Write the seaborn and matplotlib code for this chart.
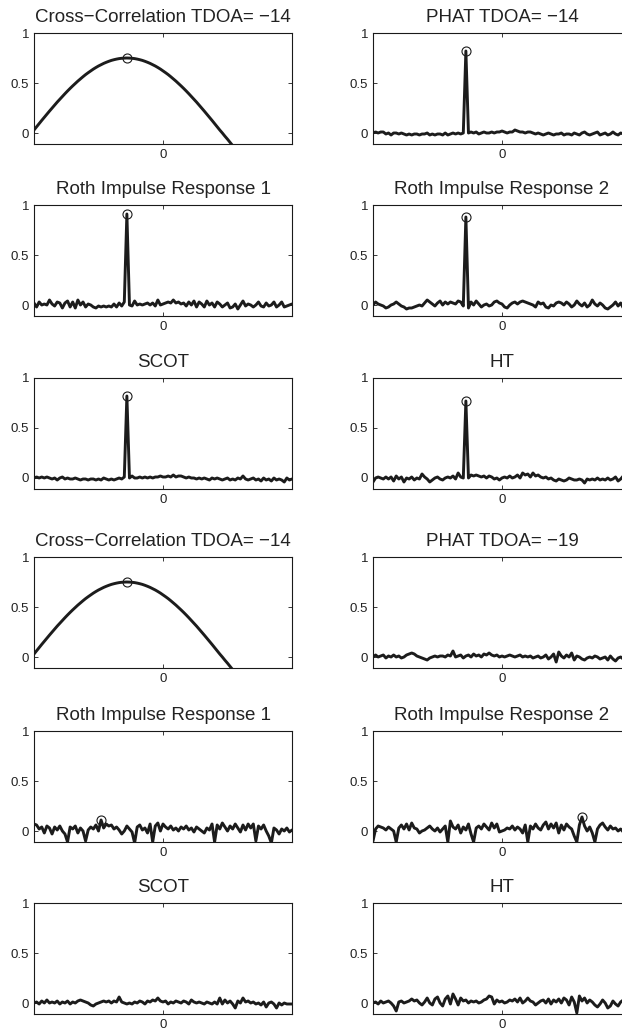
import numpy as np
import pandas as pd
import matplotlib
matplotlib.use("Agg")
import matplotlib.pyplot as plt
import seaborn as sns

# ---------------- data ----------------
lags = np.arange(-50, 51)

cross_corr = [
    0.030, 0.062, 0.094, 0.126, 0.157, 0.188, 0.219, 0.249, 0.279, 0.309,
    0.337, 0.365, 0.393, 0.420, 0.446, 0.471, 0.495, 0.519, 0.541, 0.563,
    0.584, 0.603, 0.621, 0.639, 0.655, 0.670, 0.683, 0.696, 0.707, 0.717,
    0.726, 0.733, 0.739, 0.744, 0.747, 0.749, 0.750, 0.749, 0.747, 0.744,
    0.739, 0.733, 0.726, 0.717, 0.707, 0.696, 0.683, 0.670, 0.655, 0.639,
    0.621, 0.603, 0.584, 0.563, 0.541, 0.519, 0.495, 0.471, 0.446, 0.420,
    0.393, 0.365, 0.337, 0.309, 0.279, 0.249, 0.219, 0.188, 0.157, 0.126,
    0.094, 0.062, 0.030, 0.000, -0.032, -0.062, -0.094, -0.126, -0.157, -0.188,
    -0.219, -0.249, -0.279, -0.309, -0.337, -0.365, -0.393, -0.420, -0.446, -0.471,
    -0.495, -0.519, -0.541, -0.563, -0.584, -0.603, -0.621, -0.639, -0.655, -0.670,
    -0.683,
]

phat_1 = [
    0.00, 0.01, 0.00, 0.01, 0.01, -0.01, 0.00, -0.02, 0.00, 0.00,
    -0.01, 0.00, -0.01, -0.02, -0.01, -0.02, -0.01, -0.01, -0.02, -0.01,
    -0.01, 0.00, -0.02, -0.01, -0.02, -0.01, -0.01, -0.02, 0.00, -0.02,
    -0.01, 0.00, -0.01, 0.00, -0.01, 0.00, 0.82, 0.00, 0.01, 0.00,
    0.01, -0.01, 0.00, 0.01, 0.00, 0.00, 0.01, 0.00, 0.01, 0.01,
    0.02, 0.01, 0.00, 0.01, 0.01, 0.03, 0.02, 0.01, 0.01, 0.00,
    0.01, 0.01, 0.00, -0.01, 0.00, -0.01, -0.02, -0.01, 0.00, -0.01,
    -0.02, -0.01, -0.01, 0.00, -0.02, -0.01, -0.01, -0.02, 0.00, -0.01,
    -0.02, 0.00, 0.01, -0.01, -0.02, -0.01, 0.00, 0.01, -0.02, -0.01,
    0.00, -0.02, -0.01, 0.01, -0.01, -0.02, 0.00, -0.01, -0.02, -0.01,
    -0.02,
]

roth1_1 = [
    0.02, -0.02, 0.03, 0.00, 0.01, 0.00, 0.05, 0.01, -0.01, 0.03,
    0.02, -0.03, 0.02, 0.04, -0.02, 0.03, -0.03, 0.05, 0.00, 0.03,
    -0.02, 0.01, 0.00, -0.02, -0.03, -0.01, -0.02, -0.01, -0.02, -0.01,
    -0.02, 0.01, -0.02, 0.02, -0.01, 0.03, 0.91, 0.00, -0.01, 0.04,
    0.00, 0.01, 0.00, 0.01, 0.02, 0.00, 0.02, -0.01, 0.05, 0.00,
    0.01, 0.02, 0.03, 0.02, 0.05, 0.02, 0.03, 0.01, 0.02, -0.01,
    0.03, 0.00, 0.04, -0.02, 0.03, 0.01, -0.02, 0.04, 0.00, 0.02,
    -0.02, 0.03, 0.01, -0.02, 0.00, 0.02, -0.03, -0.02, 0.01, -0.04,
    0.00, 0.04, -0.01, 0.01, 0.00, -0.02, 0.00, 0.03, -0.01, -0.02,
    0.02, -0.01, 0.00, 0.03, -0.02, 0.00, 0.03, -0.02, -0.01, 0.00,
    0.01,
]

roth2_1 = [
    0.00, 0.03, 0.01, 0.00, -0.01, -0.03, -0.02, 0.00, 0.01, 0.03,
    0.01, -0.01, -0.02, -0.04, -0.03, -0.03, -0.02, -0.01, 0.00, -0.01,
    0.02, 0.05, 0.03, 0.01, -0.01, 0.02, 0.04, 0.00, 0.03, 0.01,
    0.03, 0.02, 0.01, 0.04, 0.03, -0.01, 0.88, -0.03, 0.03, 0.00,
    0.04, 0.01, -0.02, 0.00, 0.01, -0.01, 0.00, 0.03, 0.04, 0.02,
    0.01, -0.02, -0.03, 0.00, 0.02, 0.03, 0.01, 0.03, 0.04, 0.03,
    0.02, 0.01, 0.00, -0.02, 0.03, 0.01, 0.02, -0.02, -0.03, 0.00,
    -0.01, 0.02, 0.03, 0.02, 0.00, 0.03, 0.01, -0.02, 0.00, 0.04,
    0.01, -0.01, 0.02, -0.02, 0.00, 0.05, 0.01, -0.01, 0.02, 0.00,
    -0.03, -0.04, -0.02, 0.00, 0.03, -0.01, 0.02, -0.03, -0.01, -0.04,
    -0.02,
]

scot_1 = [
    0.00, 0.01, 0.00, 0.01, 0.00, 0.01, 0.00, -0.01, 0.00, -0.02,
    0.00, 0.01, -0.01, 0.00, -0.01, -0.01, 0.00, -0.01, -0.02, -0.01,
    -0.01, -0.02, -0.01, -0.01, -0.02, -0.01, -0.02, 0.00, -0.01, -0.02,
    -0.01, -0.02, -0.01, 0.00, -0.01, 0.01, 0.82, 0.00, 0.02, 0.00,
    0.00, 0.01, 0.00, 0.01, 0.00, 0.01, 0.00, 0.01, 0.01, 0.02,
    0.01, 0.01, 0.02, 0.01, 0.03, 0.01, 0.02, 0.02, 0.01, 0.00,
    0.01, 0.00, 0.00, -0.01, 0.00, -0.01, 0.00, -0.01, -0.02, 0.00,
    -0.01, 0.00, -0.01, -0.02, -0.01, 0.00, -0.02, -0.01, -0.02, 0.00,
    -0.01, 0.02, -0.01, -0.02, -0.01, 0.00, -0.02, -0.01, -0.03, 0.00,
    -0.02, -0.01, -0.03, 0.00, -0.02, -0.01, -0.02, -0.04, 0.00, -0.02,
    -0.01,
]

ht_1 = [
    -0.04, 0.00, 0.01, 0.00, -0.01, 0.01, -0.01, 0.01, -0.03, 0.02,
    -0.01, 0.01, -0.04, 0.00, -0.01, 0.01, -0.02, 0.00, -0.01, 0.04,
    0.01, -0.01, -0.04, -0.02, 0.00, 0.01, -0.01, -0.02, 0.00, 0.01,
    0.00, 0.02, -0.01, 0.05, 0.01, 0.00, 0.77, 0.00, 0.03, 0.02,
    0.03, 0.02, 0.01, 0.02, 0.00, 0.02, 0.01, -0.01, 0.00, -0.02,
    0.00, 0.01, 0.00, 0.02, 0.00, 0.01, 0.03, 0.00, 0.05, 0.03,
    0.04, 0.01, 0.05, 0.02, 0.03, 0.01, 0.00, 0.01, -0.01, 0.00,
    -0.02, -0.03, -0.01, -0.02, -0.03, -0.02, 0.00, -0.01, -0.02, -0.02,
    -0.01, -0.02, -0.05, -0.01, -0.02, -0.01, -0.02, 0.00, -0.02, -0.01,
    -0.02, 0.00, -0.02, -0.01, 0.01, -0.03, -0.01, 0.02, -0.04, -0.01,
    -0.03,
]

phat_2 = [
    0.00, 0.02, 0.00, 0.01, 0.02, -0.01, 0.01, 0.00, 0.02, 0.00,
    0.01, -0.01, 0.00, 0.02, 0.03, 0.04, 0.03, 0.01, 0.00, -0.01,
    -0.02, -0.03, -0.01, 0.00, 0.01, 0.00, 0.01, 0.01, 0.00, 0.02,
    0.01, 0.06, 0.00, 0.01, 0.02, -0.01, 0.01, 0.02, 0.00, 0.03,
    0.01, 0.02, 0.00, 0.03, 0.02, 0.04, 0.02, 0.01, 0.02, 0.00,
    0.01, 0.00, 0.01, 0.02, 0.01, 0.00, 0.01, 0.02, 0.00, 0.01,
    0.00, 0.01, -0.01, 0.00, 0.01, -0.01, 0.00, 0.02, -0.02, 0.00,
    0.03, -0.05, 0.05, 0.01, -0.01, 0.02, 0.00, 0.04, -0.03, 0.01,
    0.00, -0.02, -0.03, -0.01, 0.00, -0.01, 0.01, 0.00, -0.02, -0.01,
    0.00, -0.03, 0.01, -0.02, -0.04, -0.01, 0.00, -0.02, -0.01, -0.03,
    -0.02,
]

roth1_2 = [
    0.07, 0.06, 0.02, 0.04, -0.02, 0.05, 0.03, -0.03, 0.04, 0.01,
    0.05, 0.00, -0.03, -0.11, 0.04, 0.02, 0.05, -0.02, 0.03, 0.00,
    -0.10, 0.01, 0.04, 0.02, 0.06, 0.00, 0.11, 0.03, 0.07, 0.05,
    0.06, 0.02, 0.04, 0.01, -0.03, 0.00, 0.05, 0.02, -0.01, -0.12,
    0.04, 0.06, 0.01, 0.03, -0.02, 0.07, -0.11, 0.05, 0.08, 0.00,
    0.07, 0.04, 0.02, 0.05, 0.01, 0.03, 0.00, 0.04, 0.02, 0.05,
    0.01, 0.03, -0.01, 0.04, 0.02, 0.00, -0.02, 0.03, 0.01, 0.07,
    -0.11, 0.06, 0.02, 0.08, 0.04, 0.00, 0.05, 0.02, 0.07, 0.03,
    -0.01, 0.06, 0.01, 0.07, 0.03, 0.07, -0.10, 0.05, 0.02, 0.06,
    0.00, -0.05, -0.12, 0.03, 0.01, -0.03, 0.02, 0.00, 0.03, -0.01,
    0.01,
]

roth2_2 = [
    -0.10, 0.02, 0.05, 0.04, 0.03, 0.01, 0.04, 0.02, 0.00, -0.11,
    0.03, 0.06, 0.02, 0.07, 0.01, 0.08, 0.03, 0.02, -0.02, 0.00,
    0.01, 0.03, 0.05, 0.02, 0.00, 0.03, -0.01, 0.02, 0.05, -0.11,
    0.10, 0.04, 0.02, 0.06, -0.02, 0.04, 0.01, 0.07, -0.03, -0.11,
    0.03, 0.05, 0.02, 0.07, 0.04, 0.01, 0.08, 0.03, 0.07, -0.01,
    0.00, 0.01, 0.03, 0.02, 0.05, 0.01, 0.04, 0.02, -0.02, 0.06,
    -0.11, 0.05, 0.02, 0.07, 0.03, 0.01, 0.06, 0.09, 0.02, 0.07,
    0.03, 0.08, -0.02, 0.06, 0.01, 0.07, 0.04, 0.02, -0.05, -0.11,
    0.06, 0.14, 0.05, 0.00, 0.04, -0.02, -0.11, 0.02, 0.06, 0.08,
    0.04, 0.01, 0.05, 0.02, 0.03, 0.00, 0.02, -0.01, 0.01, 0.00,
    0.00,
]

scot_2 = [
    0.00, 0.01, -0.01, 0.02, 0.00, 0.03, 0.00, 0.01, 0.00, 0.02,
    -0.01, 0.01, 0.00, 0.02, -0.01, 0.01, 0.00, 0.02, 0.03, 0.02,
    0.01, 0.00, -0.02, -0.03, -0.01, 0.00, 0.01, 0.02, 0.01, 0.02,
    0.00, 0.02, 0.01, 0.06, 0.01, 0.00, -0.01, 0.00, -0.01, 0.01,
    0.00, 0.02, 0.01, -0.01, 0.02, 0.01, 0.03, 0.02, 0.05, 0.02,
    0.01, 0.02, -0.01, 0.01, 0.00, 0.02, 0.01, 0.00, 0.02, 0.01,
    -0.01, 0.03, 0.01, 0.00, 0.01, 0.00, -0.01, 0.01, 0.00, -0.01,
    0.01, -0.01, 0.05, -0.01, 0.03, 0.00, 0.02, -0.01, -0.05, 0.02,
    0.00, 0.05, 0.01, 0.02, 0.00, 0.01, -0.01, 0.00, -0.02, 0.01,
    -0.04, 0.00, 0.01, -0.01, -0.05, 0.00, -0.02, 0.00, -0.01, -0.01,
    -0.01,
]

ht_2 = [
    0.00, 0.01, -0.01, 0.02, 0.00, 0.01, 0.02, 0.00, -0.03, -0.08,
    0.01, 0.02, 0.00, 0.01, 0.02, 0.04, 0.02, 0.03, 0.00, -0.02,
    0.01, 0.05, 0.00, -0.02, 0.04, 0.06, 0.00, -0.03, 0.04, 0.07,
    -0.01, 0.09, 0.04, -0.02, 0.05, 0.02, 0.03, 0.00, 0.02, 0.01,
    0.02, 0.00, 0.01, 0.03, 0.04, 0.07, 0.06, -0.01, 0.03, 0.01,
    0.02, 0.00, 0.01, 0.03, 0.02, 0.04, 0.01, 0.05, 0.00, 0.02,
    0.05, 0.02, 0.01, -0.02, 0.00, 0.02, 0.03, 0.00, 0.04, -0.01,
    0.03, 0.01, 0.04, 0.00, 0.05, 0.03, -0.02, 0.06, 0.01, -0.10,
    0.07, 0.02, 0.05, 0.00, 0.03, 0.01, -0.02, -0.04, -0.01, 0.03,
    0.00, -0.05, -0.03, 0.02, -0.01, -0.03, 0.01, 0.03, 0.00, -0.04,
    -0.02,
]

titles = [
    "Cross\u2212Correlation TDOA= \u221214", "PHAT TDOA= \u221214",
    "Roth Impulse Response 1", "Roth Impulse Response 2",
    "SCOT", "HT",
    "Cross\u2212Correlation TDOA= \u221214", "PHAT TDOA= \u221219",
    "Roth Impulse Response 1", "Roth Impulse Response 2",
    "SCOT", "HT",
]
series = [cross_corr, phat_1, roth1_1, roth2_1, scot_1, ht_1,
          cross_corr, phat_2, roth1_2, roth2_2, scot_2, ht_2]
show_peak = [True, True, True, True, True, True,
             True, False, True, True, False, False]
y_ticks = [0, 0.5, 1]
y_tick_labels = ["0", "0.5", "1"]
x_ticks = [0]
x_tick_labels = ["0"]

# ---------------- style ----------------
sns.set_style("ticks")
plt.rcParams["font.family"] = ["Liberation Sans", "DejaVu Sans"]
plt.rcParams["axes.linewidth"] = 0.8
line_color = "#1c1c1c"
text_color = "#222222"

W, H = 622, 1033
fig = plt.figure(figsize=(W / 100, H / 100), dpi=100)

col_left_px = [34, 373]
ax_w_px = 258
row_tops_px = [33, 205, 378, 557, 731, 903]
ax_h_px = 111

for i, (ttl, vals, pk) in enumerate(zip(titles, series, show_peak)):
    assert len(vals) == len(lags), (i, len(vals))
    r, c = divmod(i, 2)
    left = col_left_px[c] / W
    bottom = 1 - (row_tops_px[r] + ax_h_px) / H
    ax = fig.add_axes([left, bottom, ax_w_px / W, ax_h_px / H])
    df = pd.DataFrame({"lag": lags, "value": vals})
    sns.lineplot(data=df, x="lag", y="value", ax=ax, color=line_color,
                 linewidth=2.1, estimator=None, legend=False)
    if pk:
        k = int(np.argmax(vals))
        sns.lineplot(x=[lags[k]], y=[vals[k]], ax=ax, marker="o",
                     markersize=6.5, markerfacecolor="none",
                     markeredgecolor=line_color, markeredgewidth=0.8,
                     linestyle="", color=line_color, estimator=None,
                     legend=False)
    ax.set_xlim(-50, 50)
    ax.set_ylim(-0.11, 1)
    ax.set_xticks(x_ticks)
    ax.set_xticklabels(x_tick_labels)
    ax.set_yticks(y_ticks)
    ax.set_yticklabels(y_tick_labels)
    ax.set_xlabel("")
    ax.set_ylabel("")
    for s in ax.spines.values():
        s.set_visible(True)
        s.set_color("#1a1a1a")
        s.set_linewidth(0.8)
    ax.tick_params(direction="in", length=3, width=0.6, top=True, right=True,
                   labelsize=9.5, colors="#1a1a1a", labelcolor=text_color,
                   pad=3.5)
    ax.set_title(ttl, fontsize=13.5, color=text_color, pad=8)

fig.savefig("out.png", dpi=100)
